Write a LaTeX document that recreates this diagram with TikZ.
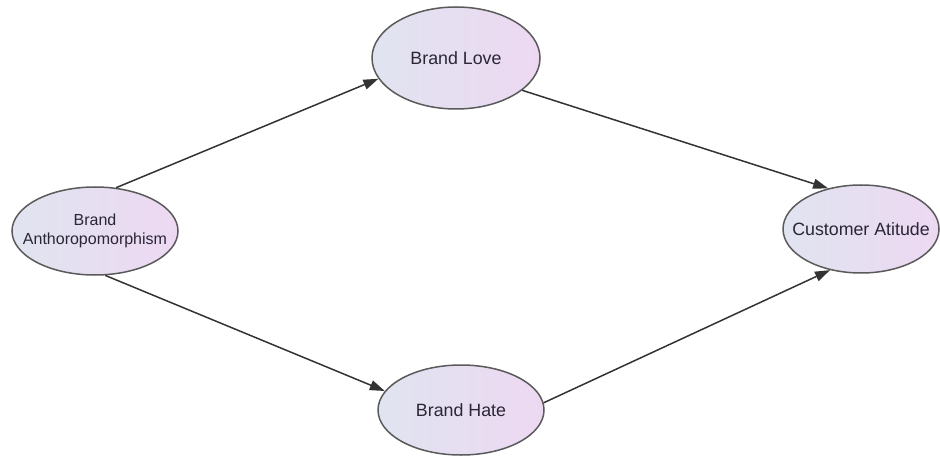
\documentclass[tikz,border=0pt]{standalone}
\usepackage{fontspec}
\setmainfont{Liberation Sans}
\usepackage{xcolor}
\usetikzlibrary{arrows.meta,shapes.geometric}
\definecolor{ovlleft}{HTML}{E0E4F0}
\definecolor{ovlright}{HTML}{EDD8F2}
\definecolor{ovlline}{HTML}{5A5A5A}
\definecolor{txtgrey}{HTML}{2A2636}

\begin{document}
\begin{tikzpicture}[x=0.5pt, y=-0.5pt,
  construct/.style={ellipse, draw=ovlline, line width=0.75pt,
                    inner xsep=-40pt, inner ysep=-10pt,
                    left color=ovlleft, right color=ovlright,
                    text=txtgrey, align=center, font=\fontsize{8.9}{10}\selectfont},
  arr/.style={-{Triangle[length=7.5pt,width=5pt]}, line width=0.75pt,
              draw=black!80}]
\useasboundingbox (0,0) rectangle (940,459);
\node[construct, minimum width=84pt, minimum height=51pt] (love) at (456,58)
  {Brand Love};
\node[construct, minimum width=83pt, minimum height=44pt,
      font=\fontsize{8}{9.6}\selectfont] (anthro) at (95,231)
  {Brand\\Anthoropomorphism};
\node[construct, minimum width=78pt, minimum height=44pt] (cust) at (861,229)
  {Customer Atitude};
\node[construct, minimum width=83pt, minimum height=45pt] (hate) at (461,410)
  {Brand Hate};
\draw[arr] (anthro.64) -- (love.195);
\draw[arr] (love.334) -- (cust.129);
\draw[arr] (anthro.283) -- (hate.166);
\draw[arr] (hate.5) -- (cust.233);
\end{tikzpicture}
\end{document}
